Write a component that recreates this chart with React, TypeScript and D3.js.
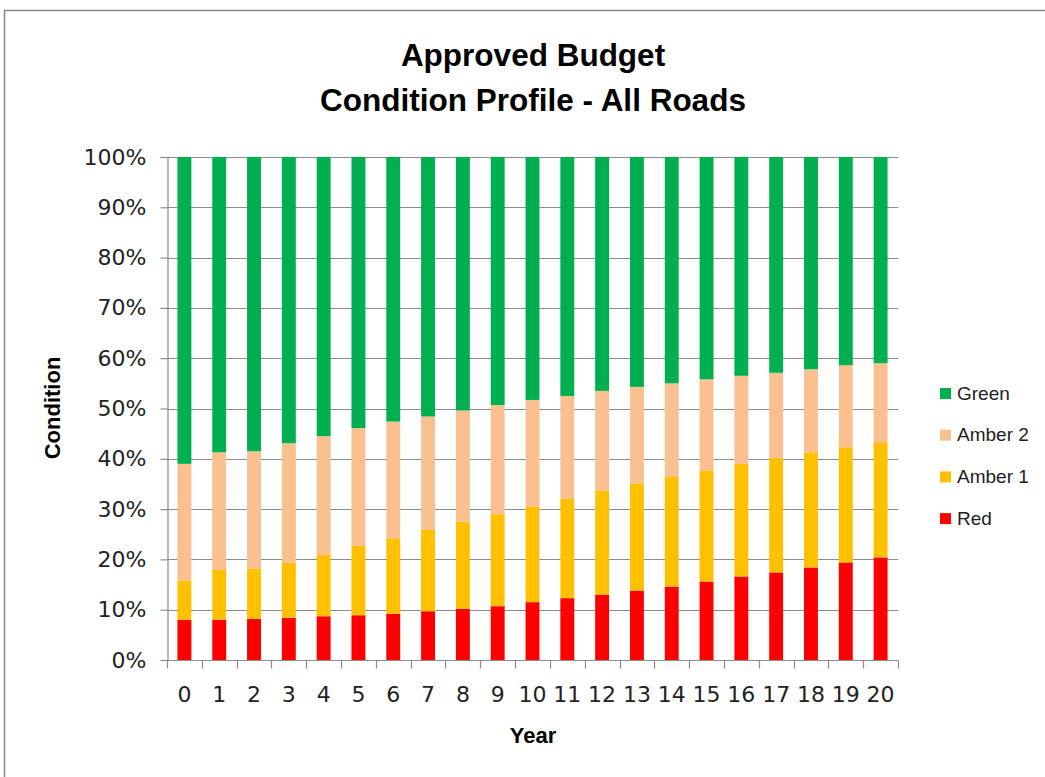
import React, { useRef, useEffect } from 'react';
import * as d3 from 'd3';

// 各年份的状况分布（百分比，每段）
const years = ['0', '1', '2', '3', '4', '5', '6', '7', '8', '9', '10', '11', '12', '13', '14', '15', '16', '17', '18', '19', '20'];
const red = [8.0, 8.0, 8.2, 8.4, 8.7, 8.9, 9.2, 9.7, 10.2, 10.7, 11.5, 12.3, 13.0, 13.8, 14.6, 15.6, 16.6, 17.4, 18.4, 19.4, 20.4];
const amber1 = [7.8, 9.9, 10.0, 11.0, 12.2, 13.8, 15.0, 16.2, 17.3, 18.3, 19.0, 19.8, 20.7, 21.3, 21.8, 22.1, 22.4, 22.8, 22.9, 22.9, 22.9];
const amber2 = [23.2, 23.4, 23.3, 23.7, 23.6, 23.4, 23.2, 22.5, 22.1, 21.7, 21.2, 20.4, 19.8, 19.2, 18.6, 18.1, 17.5, 16.9, 16.5, 16.3, 15.7];
const green = [61.0, 58.7, 58.5, 56.9, 55.5, 53.9, 52.6, 51.6, 50.4, 49.3, 48.3, 47.5, 46.5, 45.7, 45.0, 44.2, 43.5, 42.9, 42.2, 41.4, 41.0];
const yTicks = [0, 10, 20, 30, 40, 50, 60, 70, 80, 90, 100];

const seriesNames = ['Red', 'Amber 1', 'Amber 2', 'Green'];
const seriesColors = ['#FF0000', '#FFC000', '#FAC090', '#00B050'];
const legendOrder = ['Green', 'Amber 2', 'Amber 1', 'Red'];

const SANS = '"Liberation Sans", Arial, sans-serif';
const TICK = '"DejaVu Sans", sans-serif';

export default function App() {
  const svgRef = useRef<SVGSVGElement>(null);

  useEffect(() => {
    if (!svgRef.current) return;
    const svg = d3.select(svgRef.current);
    svg.selectAll('*').remove();

    const W = 1045, H = 777;
    const plot = { left: 167, right: 898, top: 157, bottom: 660 };

    // 外框
    svg.append('rect')
      .attr('x', 4.5).attr('y', 10.5)
      .attr('width', W + 20).attr('height', H + 20)
      .attr('fill', '#fff').attr('stroke', '#888').attr('stroke-width', 1.5);

    const rows = years.map((y, i) => ({
      year: y, Red: red[i], 'Amber 1': amber1[i], 'Amber 2': amber2[i], Green: green[i],
    }));
    const stacked = d3.stack<any>().keys(seriesNames)(rows);

    const x = d3.scaleBand().domain(years).range([plot.left, plot.right]).paddingInner(0.6).paddingOuter(0.3);
    const xOuter = d3.scaleBand().domain(years).range([plot.left, plot.right]);
    const y = d3.scaleLinear().domain([0, 100]).range([plot.bottom, plot.top]);
    const color = d3.scaleOrdinal<string>().domain(seriesNames).range(seriesColors);

    // 网格线
    svg.append('g').selectAll('line').data(yTicks).join('line')
      .attr('x1', plot.left).attr('x2', plot.right)
      .attr('y1', d => Math.round(y(d)) + 0.5).attr('y2', d => Math.round(y(d)) + 0.5)
      .attr('stroke', '#8c8c8c').attr('stroke-width', 1.2);

    // 柱子
    svg.append('g').selectAll('g').data(stacked).join('g')
      .attr('fill', d => color(d.key))
      .selectAll('rect').data(d => d).join('rect')
      .attr('x', d => x(d.data.year)!)
      .attr('width', x.bandwidth())
      .attr('y', d => y(d[1]))
      .attr('height', d => y(d[0]) - y(d[1]));

    // y 轴
    const yAxis = svg.append('g').attr('transform', `translate(${plot.left + 0.5},0)`)
      .call(d3.axisLeft(y).tickValues(yTicks).tickSize(7).tickPadding(14).tickFormat(d => `${d}%`));
    yAxis.select('.domain').attr('stroke', '#8c8c8c').attr('stroke-width', 1.2);
    yAxis.selectAll('.tick line').attr('stroke', '#8c8c8c').attr('stroke-width', 1.2);
    yAxis.selectAll('text').attr('font-family', TICK).attr('font-size', 22).attr('fill', '#222');

    // x 轴（刻度在类别之间）
    const xg = svg.append('g').attr('transform', `translate(0,${plot.bottom + 0.5})`);
    xg.append('line').attr('x1', plot.left).attr('x2', plot.right).attr('stroke', '#8c8c8c').attr('stroke-width', 1.2);
    const bounds = years.map(d => xOuter(d)!).concat([plot.right]);
    xg.selectAll('line.tk').data(bounds).join('line').attr('class', 'tk')
      .attr('x1', d => Math.round(d) + 0.5).attr('x2', d => Math.round(d) + 0.5)
      .attr('y1', 0).attr('y2', 8)
      .attr('stroke', '#8c8c8c').attr('stroke-width', 1.2);
    xg.selectAll('text').data(years).join('text')
      .attr('x', d => x(d)! + x.bandwidth() / 2)
      .attr('y', 41)
      .attr('text-anchor', 'middle')
      .attr('font-family', TICK).attr('font-size', 22).attr('fill', '#222')
      .text(d => d);

    // 标题
    const title = svg.append('text').attr('text-anchor', 'middle')
      .attr('font-family', SANS).attr('font-weight', 'bold').attr('font-size', 31.5);
    title.append('tspan').attr('x', 533).attr('y', 66).text('Approved Budget');
    title.append('tspan').attr('x', 533).attr('y', 111).text('Condition Profile - All Roads');

    // 轴标题
    svg.append('text').attr('text-anchor', 'middle')
      .attr('transform', 'translate(60,408) rotate(-90)')
      .attr('font-family', SANS).attr('font-weight', 'bold').attr('font-size', 22)
      .text('Condition');
    svg.append('text').attr('text-anchor', 'middle')
      .attr('x', 533).attr('y', 743)
      .attr('font-family', SANS).attr('font-weight', 'bold').attr('font-size', 22)
      .text('Year');

    // 图例
    const legend = svg.append('g').selectAll('g').data(legendOrder).join('g')
      .attr('transform', (d, i) => `translate(940,${388 + i * 41.7})`);
    legend.append('rect').attr('width', 11).attr('height', 11).attr('fill', d => color(d));
    legend.append('text').attr('x', 17).attr('y', 11.5)
      .attr('font-family', SANS).attr('font-size', 19).attr('fill', '#222').text(d => d);
  }, []);

  return (
    <div style={{ position: 'absolute', left: 0, top: 0 }}>
      <svg ref={svgRef} width={1045} height={777} style={{ display: 'block', background: '#fff' }} />
    </div>
  );
}
